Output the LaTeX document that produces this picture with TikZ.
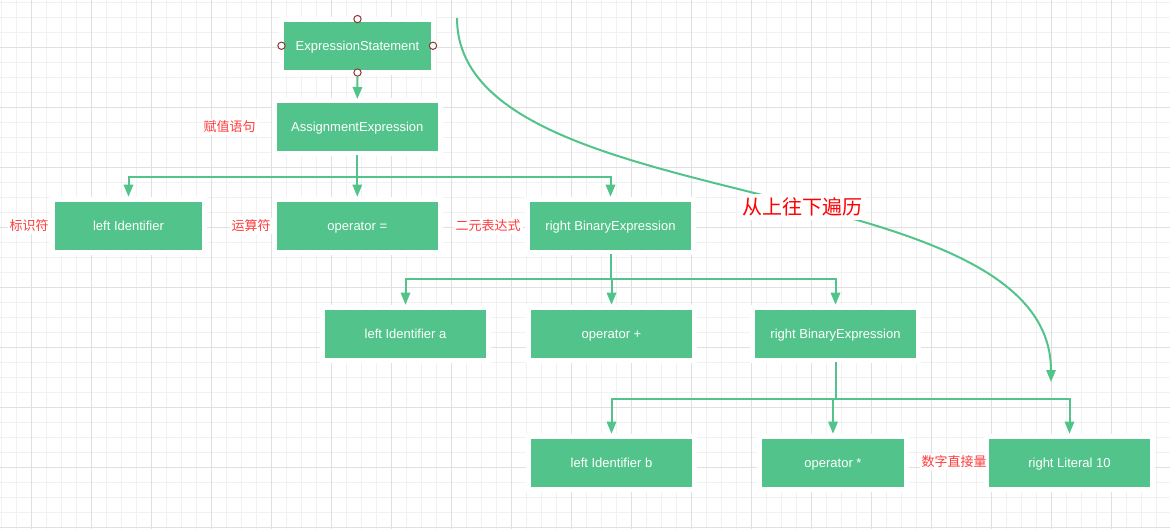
\documentclass[tikz,border=0pt]{standalone}
\usepackage{fontspec}
\setmainfont{Liberation Sans}
\newfontfamily\cjk{Noto Sans CJK SC}
\usetikzlibrary{arrows.meta}
\definecolor{gr}{RGB}{82,196,139}
\definecolor{gminor}{RGB}{241,241,241}
\definecolor{gmajor}{RGB}{224,224,224}
\definecolor{lblred}{RGB}{255,59,59}
\definecolor{hdl}{RGB}{140,52,52}
\begin{document}
\begin{tikzpicture}[x=0.75pt,y=-0.75pt,
  box/.style={fill=gr, text=white, minimum height=36pt, inner sep=0pt,
    text height=7pt, text depth=0pt,
    font=\fontsize{9.75}{11}\selectfont, preaction={draw=white, line width=7.5pt}},
  w147/.style={minimum width=110.25pt},
  w160/.style={minimum width=120.5pt},
  w142/.style={minimum width=106.5pt},
  handle/.style={circle, draw=hdl, fill=white, line width=0.75pt, minimum size=5.5pt, inner sep=0pt},
  conn/.style={draw=gr, line width=1.5pt, -{Triangle[length=9pt,width=7pt]}},
  bus/.style={conn, shorten <=3pt, shorten >=3.75pt},
  lbl/.style={text=lblred, font=\cjk\fontsize{9.75}{11}\selectfont, fill=white, inner sep=1.5pt},
  biglbl/.style={text=red, font=\cjk\fontsize{15}{17}\selectfont, fill=white, inner xsep=2pt, inner ysep=3pt}
]
\useasboundingbox (0,0) rectangle (1170,529);
\fill[white] (0,0) rectangle (1170,529);
% grid
\begin{scope}[line width=0.75pt]
  \foreach \x in {1.5,16.5,...,1170} \draw[gminor] (\x,0) -- (\x,529);
  \foreach \y in {2.5,17.5,...,529} \draw[gminor] (0,\y) -- (1170,\y);
  \foreach \x in {31.5,91.5,...,1170} \draw[gmajor] (\x,0) -- (\x,529);
  \foreach \y in {47.5,107.5,...,529} \draw[gmajor] (0,\y) -- (1170,\y);
\end{scope}
% nodes
\node[box,w147] (es) at (357.5,45.75) {ExpressionStatement};
\node[box,w160] (ae) at (357.3,127) {AssignmentExpression};
\node[box,w147] (li) at (128.5,226) {left Identifier};
\node[box,w160] (oe) at (357.3,226) {operator =};
\node[box,w160] (rb) at (610.5,226) {right BinaryExpression};
\node[box,w160] (lia) at (405.5,334) {left Identifier a};
\node[box,w160] (op) at (611.5,334) {operator +};
\node[box,w160] (rb2) at (835.5,334) {right BinaryExpression};
\node[box,w160] (lib) at (611.5,463) {left Identifier b};
\node[box,w142] (om) at (833,463) {operator *};
\node[box,w160] (rl) at (1069.5,463) {right Literal 10};
% handles
\node[handle] (ht) at ([yshift=1.8pt]es.north) {};
\node[handle] (hl) at ([xshift=-1.7pt]es.west) {};
\node[handle] (hr) at ([xshift=1.3pt]es.east) {};
\node[handle] (hb) at ([yshift=-1.9pt]es.south) {};
% connectors
\draw[conn, shorten >=2.8pt] (hb.south) -- (ae.north);
\draw[bus] (ae.south) -- ++(0,26) -| (li.north);
\draw[bus] (ae.south) -- (oe.north);
\draw[bus] (ae.south) -- ++(0,26) -| (rb.north);
\draw[bus] (rb.south) -- ++(0,29) -| (lia.north);
\draw[bus] (rb.south) -- ++(0,29) -| (op.north);
\draw[bus] (rb.south) -- ++(0,29) -| (rb2.north);
\draw[bus] (rb2.south) -- ++(0,40.5) -| (lib.north);
\draw[bus] (rb2.south) -- ++(0,40.5) -| (om.north);
\draw[bus] (rb2.south) -- ++(0,40.5) -| (rl.north);
% traversal curve
\coordinate (cs) at (457,18);
\coordinate (ce) at (1051,382);
\draw[conn] (cs) .. controls (457,221) and (1051,164) .. (ce)
  node[biglbl, pos=0.555] (trav) {从上往下遍历};
% labels
\node[lbl, anchor=east] (l1) at (258,127) {赋值语句};
\node[lbl, anchor=east] (l2) at (51,226) {标识符};
\node[lbl, anchor=east] (l3) at (273,226) {运算符};
\node[lbl, anchor=east] (l4) at (523,226) {二元表达式};
\node[lbl, anchor=east] (l5) at (989,462) {数字直接量};
\end{tikzpicture}
\end{document}
